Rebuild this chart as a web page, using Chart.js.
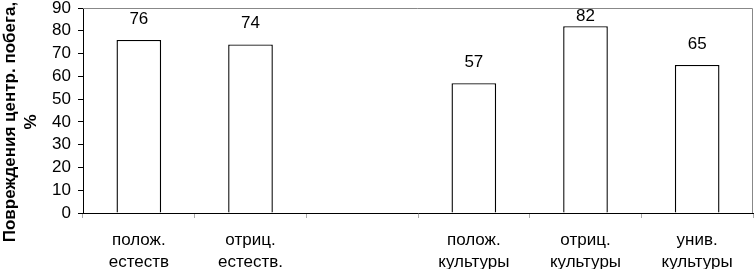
<!DOCTYPE html>
<html><head><meta charset="utf-8">
<script src="https://cdn.jsdelivr.net/npm/chart.js@4/dist/chart.umd.min.js"></script>
<style>html,body{margin:0;padding:0;background:#fff}#w{width:754px;height:269px}</style>
</head><body><div id="w"><canvas id="c"></canvas></div>
<script>
const categories = [["полож.","естеств"],["отриц.","естеств."],"",["полож.","культуры"],["отриц.","культуры"],["унив.","культуры"]];
const values = [76, 74, null, 57, 82, 65];
const yTicks = [0,10,20,30,40,50,60,70,80,90];
const yTitle = ["Повреждения центр. побега,", "%"];

const FONT = '"Liberation Sans", Arial, sans-serif';

const extras = {
  id: 'extras',
  afterDraw(chart) {
    const ctx = chart.ctx, a = chart.chartArea;
    ctx.save();
    // gray top & right border
    ctx.strokeStyle = '#888'; ctx.lineWidth = 1;
    ctx.beginPath();
    ctx.moveTo(a.left, a.top + 0.5); ctx.lineTo(a.right - 0.5, a.top + 0.5); ctx.lineTo(a.right - 0.5, a.bottom);
    ctx.stroke();
    // value labels
    const meta = chart.getDatasetMeta(0);
    ctx.fillStyle = '#000'; ctx.font = '17px ' + FONT; ctx.textAlign = 'center'; ctx.textBaseline = 'middle';
    meta.data.forEach((el, i) => {
      const v = values[i];
      if (v == null) return;
      ctx.fillText(String(v), el.x, Math.max(el.y - 21, a.top + 8));
    });
    // y title
    ctx.font = 'bold 17px ' + FONT;
    ctx.translate(0, 122);
    ctx.rotate(-Math.PI / 2);
    ctx.fillText(yTitle[0], 0, 10);
    ctx.fillText(yTitle[1], 0, 31);
    ctx.restore();
  }
};

new Chart(document.getElementById('c'), {
  type: 'bar',
  data: { labels: categories, datasets: [{ data: values, backgroundColor: '#fff', borderColor: '#000', borderWidth: 1.4, barPercentage: 0.4, categoryPercentage: 1 }] },
  options: {
    responsive: true, maintainAspectRatio: false, animation: false,
    layout: { padding: { top: 8, right: 1, left: 0, bottom: 0 } },
    plugins: { legend: { display: false }, tooltip: { enabled: false } },
    scales: {
      x: {
        grid: { offset: true, drawOnChartArea: false, tickLength: 5, color: '#aaa' },
        border: { display: true, color: '#000', width: 1 },
        ticks: { color: '#000', font: { family: FONT, size: 17, lineHeight: 1.3 }, padding: 11, maxRotation: 0, autoSkip: false },
        afterFit(s) { s.height = 56; s.paddingLeft = 0; s.paddingRight = 0; }
      },
      y: {
        min: 0, max: 90,
        afterBuildTicks(s) { s.ticks = yTicks.map(v => ({ value: v })); },
        grid: { drawOnChartArea: false, tickLength: 5, color: '#000' },
        border: { display: true, color: '#000', width: 1 },
        ticks: { color: '#000', font: { family: FONT, size: 17 }, padding: 7, autoSkip: false },
        afterFit(s) { s.width = 83; s.paddingTop = 0; s.paddingBottom = 0; }
      }
    }
  },
  plugins: [extras]
});
</script></body></html>
